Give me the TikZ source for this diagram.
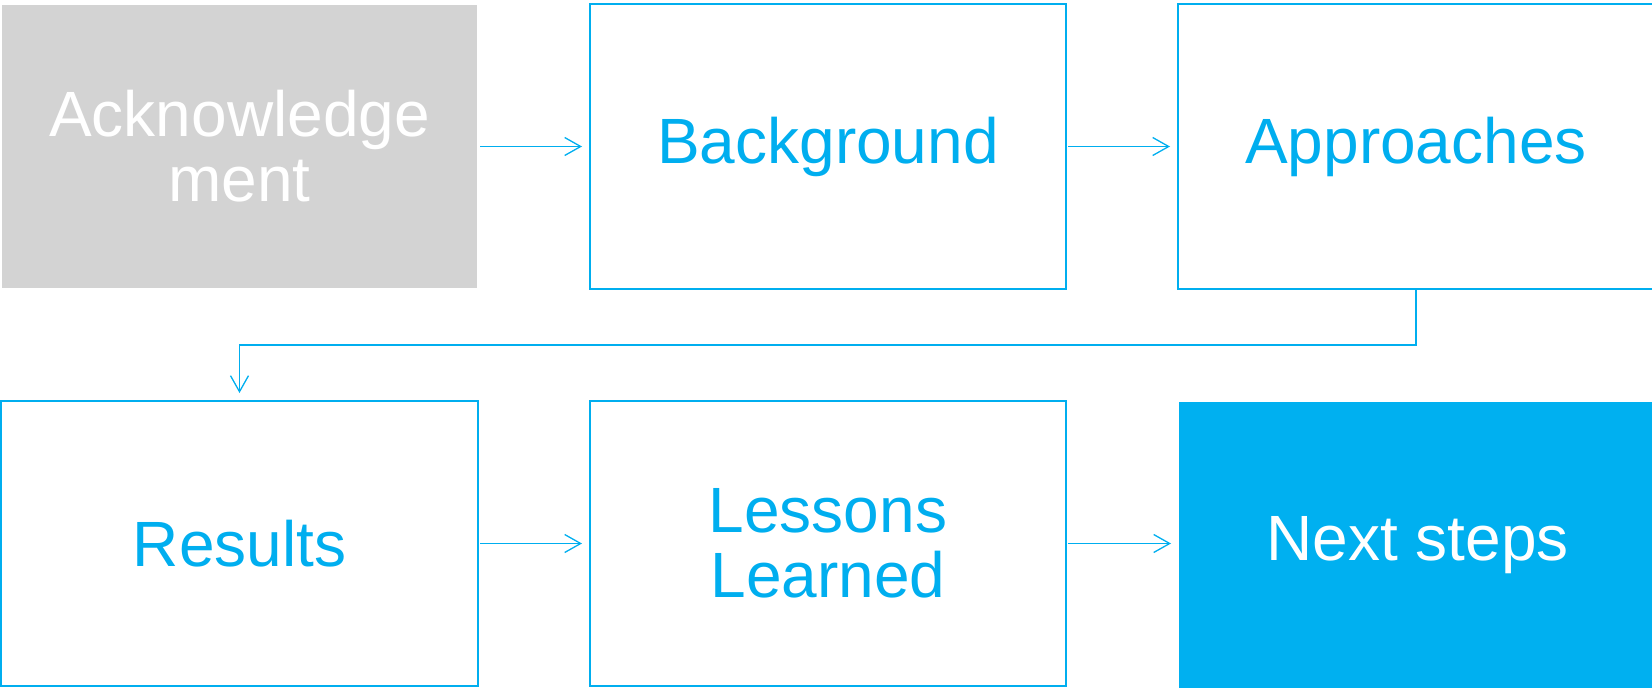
\documentclass[tikz,border=0pt]{standalone}
\usepackage{fontspec}
\setmainfont{Liberation Sans}
\usetikzlibrary{arrows.meta}
\definecolor{cblue}{HTML}{00AEEF}
\definecolor{cfill}{HTML}{00B0F0}
\definecolor{cgray}{HTML}{D3D3D3}
\begin{document}
\begin{tikzpicture}[x=1pt,y=-1pt,
  box/.style={rectangle, inner sep=0pt, outer sep=0pt, minimum width=476pt, minimum height=285pt,
    align=center, font=\fontsize{64}{65}\selectfont},
  outlinebox/.style={box, draw=cblue, line width=2pt, text=cblue},
  graybox/.style={box, fill=cgray, text=white, minimum width=475pt, minimum height=283pt},
  bluebox/.style={box, fill=cfill, text=white},
  conn/.style={draw=cblue, line width=1.3pt, -{Straight Barb[length=16pt,width=18pt,line width=1.3pt]}}
]
\useasboundingbox (0,0) rectangle (1652,688);
\node[graybox] (ack) at (239.5,146.5) {Acknowledge\\ment};
\node[outlinebox] (bg) at (828,146.5) {Background};
\node[outlinebox] (app) at (1416,146.5) {Approaches};
\node[outlinebox, minimum width=477pt] (res) at (239.5,543.5) {Results};
\node[outlinebox] (les) at (828,543.5) {Lessons\\Learned};
\node[bluebox, minimum width=477pt, minimum height=287pt] (next) at (1417.5,545.5) {Next steps};
\draw[conn, shorten <=3pt, shorten >=8pt] (ack.east) -- (bg.west);
\draw[conn, shorten <=2pt, shorten >=8pt] (bg.east) -- (app.west);
\draw[conn, shorten >=8pt] (app.south) -- ++(0,56) -| (res.north);
\draw[conn, shorten <=2pt, shorten >=8pt] (res.east) -- (les.west);
\draw[conn, shorten <=2pt, shorten >=8pt] (les.east) -- (les.east -| next.west);
\end{tikzpicture}
\end{document}
